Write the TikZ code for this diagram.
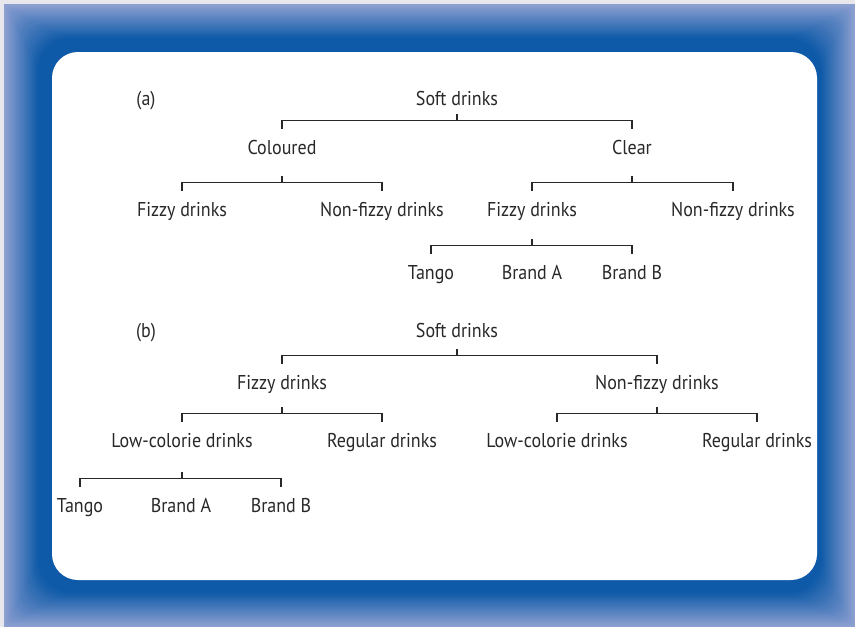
\documentclass[tikz,border=0pt]{standalone}
\usepackage{fontspec}
\setmainfont[FakeStretch=0.9]{PT Sans}
\usetikzlibrary{calc}
\definecolor{edgeblue}{RGB}{142,160,210}
\definecolor{deepblue}{RGB}{14,90,168}
\definecolor{ink}{RGB}{40,40,40}
\definecolor{rim}{RGB}{232,232,236}
\tikzset{
  lbl/.style={inner sep=0pt, text height=25pt, text depth=5pt, anchor=base,
              font=\fontsize{20}{22}\selectfont, text=ink},
  conn/.style={draw=ink, line width=1.1pt}
}
\begin{document}
\begin{tikzpicture}[x=1pt,y=-1pt]
\useasboundingbox (0,0) rectangle (855,627);
\fill[rim] (0,0) rectangle (855,627);
\foreach \i in {0,...,40} {
  \pgfmathtruncatemacro\p{min(100,100*\i/34)}
  \fill[deepblue!\p!edgeblue, rounded corners=\i pt] (4+\i,4+\i) rectangle (855-\i,627-\i);
}
\fill[white, rounded corners=26pt] (52,52) rectangle (817,580);

% ---------- (a) ----------
\node[lbl] (la) at (146,105) {(a)};
\node[lbl] (a0) at (457,105) {Soft drinks};
\node[lbl] (a1) at (282,154) {Coloured};
\node[lbl] (a2) at (632,154) {Clear};
\node[lbl] (a11) at (182,216) {Fizzy drinks};
\node[lbl] (a12) at (382,216) {Non-fizzy drinks};
\node[lbl] (a21) at (532,216) {Fizzy drinks};
\node[lbl] (a22) at (733,216) {Non-fizzy drinks};
\node[lbl] (a211) at (431,279) {Tango};
\node[lbl] (a212) at (532,279) {Brand A};
\node[lbl] (a213) at (632,279) {Brand B};

\draw[conn] (a1.north) -- ++(0,-8) -| (a2.north);
\draw[conn] ($(a1.north -| a0)+(0,-8)$) -- ++(0,-7);
\draw[conn] (a11.north) -- ++(0,-8) -| (a12.north);
\draw[conn] ($(a11.north -| a1)+(0,-8)$) -- ++(0,-7);
\draw[conn] (a21.north) -- ++(0,-8) -| (a22.north);
\draw[conn] ($(a21.north -| a2)+(0,-8)$) -- ++(0,-7);
\draw[conn] (a211.north) -- ++(0,-8) -| (a213.north);
\draw[conn] ($(a211.north -| a21)+(0,-8)$) -- ++(0,-7);

% ---------- (b) ----------
\node[lbl] (lb) at (146,337) {(b)};
\node[lbl] (b0) at (457,337) {Soft drinks};
\node[lbl] (b1) at (282,389) {Fizzy drinks};
\node[lbl] (b2) at (657,389) {Non-fizzy drinks};
\node[lbl] (b11) at (182,447) {Low-colorie drinks};
\node[lbl] (b12) at (382,447) {Regular drinks};
\node[lbl] (b21) at (557,447) {Low-colorie drinks};
\node[lbl] (b22) at (757,447) {Regular drinks};
\node[lbl] (b111) at (80,512) {Tango};
\node[lbl] (b112) at (181,512) {Brand A};
\node[lbl] (b113) at (281,512) {Brand B};

\draw[conn] (b1.north) -- ++(0,-8) -| (b2.north);
\draw[conn] ($(b1.north -| b0)+(0,-8)$) -- ++(0,-7);
\draw[conn] (b11.north) -- ++(0,-8) -| (b12.north);
\draw[conn] ($(b11.north -| b1)+(0,-8)$) -- ++(0,-7);
\draw[conn] (b21.north) -- ++(0,-8) -| (b22.north);
\draw[conn] ($(b21.north -| b2)+(0,-8)$) -- ++(0,-7);
\draw[conn] (b111.north) -- ++(0,-8) -| (b113.north);
\draw[conn] ($(b111.north -| b11)+(0,-8)$) -- ++(0,-7);
\end{tikzpicture}
\end{document}
